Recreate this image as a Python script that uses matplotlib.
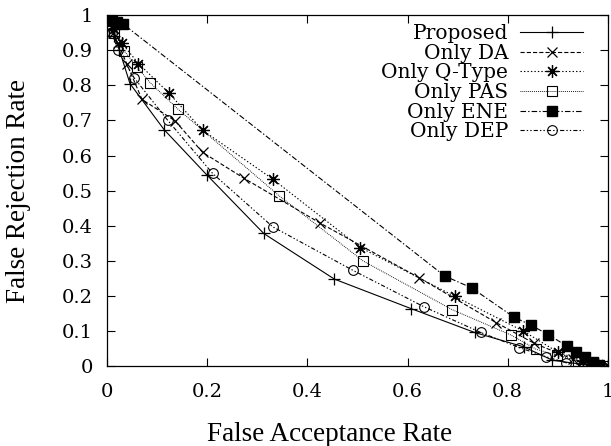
import matplotlib
matplotlib.use("Agg")
import matplotlib.pyplot as plt

plt.rcParams['font.family'] = ['DejaVu Serif']
plt.rcParams['lines.scale_dashes'] = False

labels = ["Proposed", "Only DA", "Only Q-Type", "Only PAS", "Only ENE", "Only DEP"]

prop_far = [0.0, 0.003, 0.008, 0.015, 0.025, 0.046, 0.114, 0.200, 0.313, 0.454, 0.607, 0.734, 0.832, 0.889, 0.950, 0.980, 1.0]
prop_frr = [1.0, 0.990, 0.970, 0.940, 0.900, 0.805, 0.674, 0.544, 0.378, 0.248, 0.164, 0.096, 0.055, 0.017, 0.005, 0.001, 0.0]

da_far = [0.0, 0.005, 0.012, 0.022, 0.040, 0.070, 0.136, 0.191, 0.274, 0.425, 0.623, 0.777, 0.853, 0.930, 0.970, 1.0]
da_frr = [1.0, 0.980, 0.950, 0.920, 0.860, 0.760, 0.699, 0.609, 0.535, 0.408, 0.252, 0.124, 0.065, 0.020, 0.005, 0.0]

qt_far = [0.0, 0.005, 0.015, 0.030, 0.063, 0.123, 0.191, 0.331, 0.506, 0.694, 0.831, 0.900, 0.950, 0.980, 1.0]
qt_frr = [1.0, 0.990, 0.960, 0.920, 0.862, 0.779, 0.672, 0.533, 0.338, 0.199, 0.100, 0.040, 0.015, 0.005, 0.0]

pas_far = [0.0, 0.005, 0.015, 0.035, 0.061, 0.086, 0.142, 0.344, 0.511, 0.689, 0.806, 0.857, 0.899, 0.940, 0.970, 0.990]
pas_frr = [1.0, 0.985, 0.950, 0.897, 0.851, 0.808, 0.732, 0.485, 0.300, 0.161, 0.089, 0.048, 0.031, 0.015, 0.005, 0.001]

ene_far = [0.0, 0.010, 0.020, 0.033, 0.674, 0.728, 0.812, 0.846, 0.881, 0.918, 0.936, 0.954, 0.971, 0.982]
ene_frr = [1.0, 0.990, 0.980, 0.974, 0.257, 0.223, 0.140, 0.117, 0.090, 0.057, 0.040, 0.026, 0.012, 0.003]

dep_far = [0.0, 0.010, 0.022, 0.054, 0.121, 0.211, 0.331, 0.491, 0.633, 0.746, 0.823, 0.876, 0.916, 0.950, 0.970]
dep_frr = [1.0, 0.950, 0.900, 0.822, 0.701, 0.549, 0.397, 0.273, 0.169, 0.096, 0.053, 0.027, 0.010, 0.004, 0.001]

xticks = [0, 0.2, 0.4, 0.6, 0.8, 1]
xticklabels = ["0", "0.2", "0.4", "0.6", "0.8", "1"]
yticks = [0, 0.1, 0.2, 0.3, 0.4, 0.5, 0.6, 0.7, 0.8, 0.9, 1]
yticklabels = ["0", "0.1", "0.2", "0.3", "0.4", "0.5", "0.6", "0.7", "0.8", "0.9", "1"]

fig = plt.figure(figsize=(6.11, 4.46), dpi=100)
ax = fig.add_axes([0.175, 0.179, 0.820, 0.787])

lw = 0.8
ax.plot(prop_far, prop_frr, color='black', lw=lw, linestyle='-', marker='+', ms=9, mew=0.9, label=labels[0])
ax.plot(da_far, da_frr, color='black', lw=lw, dashes=(3, 1.5), marker='x', ms=7, mew=0.9, label=labels[1])
ax.plot(qt_far, qt_frr, color='black', lw=lw, dashes=(1, 1.5), marker=(8, 2, 0), ms=9, mew=0.9, label=labels[2])
ax.plot(pas_far, pas_frr, color='black', lw=0.7, dashes=(0.6, 0.8), marker='s', ms=7, mew=0.8, mfc='none', label=labels[3])
ax.plot(ene_far, ene_frr, color='black', lw=lw, dashes=(4, 1.5, 1, 1.5), marker='s', ms=7, mfc='black', label=labels[4])
ax.plot(dep_far, dep_frr, color='black', lw=lw, dashes=(3, 1.5, 1, 1.5, 1, 1.5), marker='o', ms=7, mew=0.8, mfc='none', label=labels[5])

ax.set_xlim(0, 1)
ax.set_ylim(0, 1)
ax.set_xticks(xticks)
ax.set_xticklabels(xticklabels)
ax.set_yticks(yticks)
ax.set_yticklabels(yticklabels)
ax.tick_params(direction='in', length=6, width=0.8, top=True, right=True, labelsize=14)
ax.tick_params(axis='x', pad=12)
ax.tick_params(axis='y', pad=10)
for s in ax.spines.values():
    s.set_linewidth(0.9)

ax.set_xlabel("False Acceptance Rate", fontsize=19.5, family='Liberation Serif')
ax.set_ylabel("False Rejection Rate", fontsize=19.5, family='Liberation Serif')
ax.xaxis.set_label_coords(0.445, -0.158)
ax.yaxis.set_label_coords(-0.152, 0.5)

ax.legend(loc='upper right', bbox_to_anchor=(0.982, 1.02), frameon=False, markerfirst=False,
          fontsize=14.5, handlelength=3.1, handletextpad=0.6, labelspacing=0.03, borderpad=0.3)

fig.savefig("out.png", dpi=100)
